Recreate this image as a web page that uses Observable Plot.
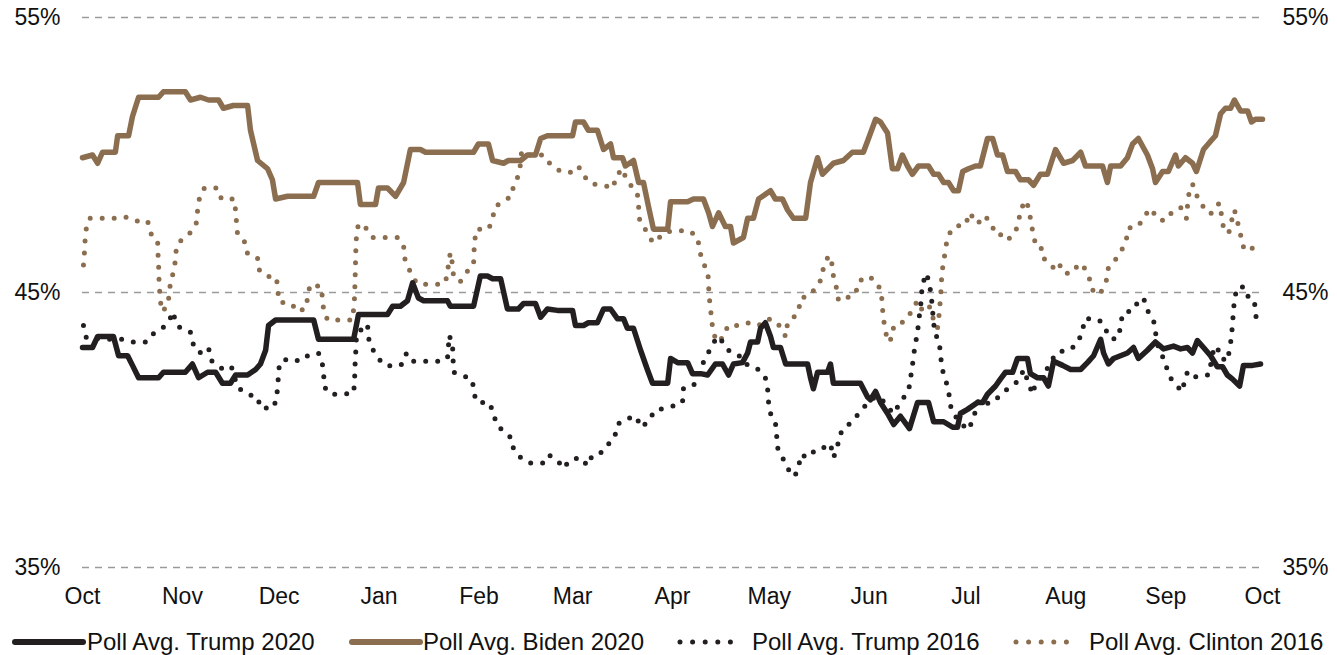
<!DOCTYPE html>
<html>
<head>
<meta charset="utf-8">
<script src="https://cdn.jsdelivr.net/npm/d3@7"></script>
<script src="https://cdn.jsdelivr.net/npm/@observablehq/plot@0.6"></script>
<style>
  body { margin: 0; background: #fff; }
  #wrap { position: relative; width: 1337px; height: 655px; font-family: "Liberation Sans", Arial, sans-serif; }
  #chart svg { display: block; }
  #legend { display: block; }
</style>
</head>
<body>
<div id="wrap">
  <div id="chart"></div>
  <svg id="legend" width="1337" height="40"></svg>
</div>
<script>
// ---------- DATA (day offset from 1 Oct 2019, poll average %) ----------
const monthLabels = ["Oct","Nov","Dec","Jan","Feb","Mar","Apr","May","Jun","Jul","Aug","Sep","Oct"];
const yTicks = [35, 45, 55];
const seriesNames = ["Poll Avg. Trump 2020", "Poll Avg. Biden 2020", "Poll Avg. Trump 2016", "Poll Avg. Clinton 2016"];

const trump2020 = [
  [0,43.0],[3.1,43.0],[4.7,43.4],[9.6,43.4],[11.2,42.7],[14.0,42.7],[15.5,42.35],[17.4,41.9],[23.6,41.9],
  [25.1,42.1],[31.9,42.1],[34.1,42.4],[36.0,41.9],[38.8,42.1],[41.3,42.1],[43.4,41.7],[45.9,41.7],[47.5,42.0],
  [51.2,42.0],[53.7,42.2],[55.2,42.4],[56.8,42.9],[57.7,43.8],[59.9,44.0],[71.7,44.0],[73.2,43.3],[84.1,43.3],
  [85.6,44.2],[94.6,44.2],[96.2,44.5],[98.6,44.5],[100.8,44.7],[102.4,45.35],[104.2,44.8],[105.8,44.7],
  [113.2,44.7],[114.1,44.5],[121.3,44.5],[123.4,45.6],[125.6,45.6],[127.2,45.5],[129.7,45.5],[131.8,44.4],
  [135.2,44.4],[136.8,44.6],[140.5,44.6],[142.1,44.1],[144.2,44.4],[147.3,44.35],[152.0,44.35],[152.9,43.8],
  [155.4,43.8],[156.9,43.9],[159.7,43.9],[161.6,44.4],[163.8,44.4],[165.9,44.05],[167.8,44.05],[169.0,43.7],
  [170.9,43.7],[173.1,42.9],[175.2,42.2],[176.8,41.7],[181.5,41.7],[182.4,42.6],[184.6,42.45],[187.7,42.45],
  [189.2,42.05],[191.7,42.05],[193.9,42.0],[196.3,42.4],[198.5,42.4],[200.4,42.0],[201.9,42.4],[204.7,42.45],
  [206.3,42.8],[207.2,43.2],[209.4,43.2],[210.3,43.7],[211.8,43.9],[213.4,43.4],[214.3,43.0],[216.5,43.0],
  [218.1,42.4],[224.9,42.4],[225.8,41.9],[226.7,41.5],[228.0,42.1],[231.1,42.1],[232.0,42.4],[232.9,41.7],
  [241.3,41.7],[243.5,41.2],[244.4,41.1],[246.0,41.4],[247.5,41.0],[249.7,40.6],[251.6,40.2],[253.7,40.5],
  [256.5,40.05],[259.0,41.0],[262.4,41.0],[264.0,40.3],[267.1,40.3],[269.9,40.1],[271.4,40.1],[272.3,40.6],
  [274.5,40.75],[277.6,41.0],[279.2,41.0],[280.7,41.3],[283.2,41.6],[284.7,41.85],[286.3,42.1],[288.5,42.1],
  [290.0,42.6],[293.1,42.6],[294.0,42.05],[296.2,41.9],[298.1,41.9],[299.6,41.6],[301.2,42.5],[304.0,42.35],
  [306.5,42.2],[309.6,42.2],[311.7,42.45],[313.6,42.7],[315.8,43.3],[316.7,42.8],[318.2,42.4],[319.8,42.6],
  [324.1,42.8],[326.0,43.0],[327.5,42.6],[330.3,42.9],[332.8,43.2],[335.3,42.95],[338.4,43.05],[340.6,42.95],
  [342.7,43.0],[344.3,42.8],[345.8,43.25],[347.7,43.0],[349.9,42.7],[352.0,42.3],[353.6,42.3],[355.1,42.0],
  [356.7,41.85],[358.9,41.6],[360.1,42.35],[362.9,42.35],[365.4,42.4]
];

const biden2020 = [
  [0,49.9],[3.1,50.0],[4.7,49.7],[6.2,50.1],[10.2,50.1],[10.9,50.7],[14.3,50.7],[15.5,51.4],[17.4,52.1],
  [23.6,52.1],[25.1,52.3],[31.9,52.3],[33.5,52.0],[36.6,52.1],[39.1,52.0],[42.2,52.0],[43.7,51.7],[46.8,51.8],
  [51.2,51.8],[52.1,50.9],[54.3,49.8],[57.4,49.5],[58.9,49.1],[59.9,48.4],[63.6,48.5],[71.7,48.5],[73.2,49.0],
  [85.3,49.0],[86.2,48.2],[90.9,48.2],[91.8,48.8],[94.6,48.8],[97.1,48.5],[99.6,49.0],[101.7,50.2],[104.8,50.2],
  [106.4,50.1],[121.3,50.1],[122.8,50.4],[125.9,50.4],[127.2,49.8],[130.6,49.7],[132.1,49.8],[135.9,49.8],
  [138.0,50.0],[140.5,50.0],[142.1,50.6],[144.2,50.7],[152.0,50.7],[152.9,51.2],[155.4,51.2],[156.9,50.9],
  [159.7,50.9],[161.6,50.2],[163.8,50.4],[164.7,49.9],[167.5,49.9],[168.4,49.6],[170.9,49.8],[172.5,49.0],
  [174.0,49.0],[175.6,48.1],[177.1,47.3],[181.5,47.3],[182.4,48.3],[187.7,48.3],[189.5,48.4],[192.6,48.4],
  [194.2,47.9],[195.4,47.4],[197.3,47.9],[199.4,47.4],[201.0,47.4],[201.9,46.8],[205.0,47.0],[206.3,47.7],
  [208.1,47.7],[209.7,48.4],[213.4,48.7],[214.9,48.4],[217.1,48.4],[218.7,48.0],[220.5,47.7],[224.3,47.7],
  [225.8,49.0],[228.0,49.9],[229.5,49.3],[232.9,49.7],[236.0,49.8],[238.8,50.1],[242.2,50.1],[243.8,50.6],
  [246.0,51.3],[247.5,51.2],[249.7,50.8],[251.2,49.5],[252.8,49.5],[254.3,50.0],[255.9,49.6],[257.4,49.3],
  [259.3,49.6],[262.4,49.6],[264.0,49.3],[265.5,49.3],[267.1,49.0],[268.6,49.0],[270.2,48.7],[271.7,48.7],
  [273.0,49.4],[274.8,49.5],[277.0,49.6],[278.5,49.6],[280.7,50.6],[282.3,50.6],[283.8,50.0],[285.4,50.0],
  [286.9,49.4],[289.4,49.4],[290.9,49.1],[293.4,49.1],[295.0,48.9],[297.1,49.3],[299.3,49.3],[301.8,50.2],
  [304.3,49.7],[307.1,49.8],[309.6,50.1],[311.1,49.6],[316.4,49.6],[317.9,49.0],[318.9,49.6],[322.0,49.6],
  [324.1,49.9],[325.7,50.4],[327.5,50.6],[330.3,50.0],[331.9,49.5],[332.8,49.0],[335.0,49.4],[336.8,49.4],
  [339.0,50.0],[339.9,49.6],[342.1,49.9],[344.3,49.7],[345.5,49.4],[347.7,50.2],[349.9,50.5],[351.4,50.7],
  [353.0,51.5],[354.5,51.7],[356.1,51.7],[357.3,52.0],[359.2,51.6],[361.4,51.6],[362.6,51.2],[363.8,51.3],
  [366.0,51.3]
];

const trump2016 = [
  [0.3,43.8],[1.2,43.35],[8.7,43.3],[12.4,43.3],[15.8,43.2],[19.9,43.2],[22.0,43.5],[24.8,43.7],[26.7,43.95],
  [28.2,44.3],[28.8,43.9],[30.4,43.7],[33.5,43.55],[34.4,43.1],[36.3,42.8],[39.1,43.0],[39.7,42.55],[43.7,42.2],
  [46.2,42.3],[48.1,41.55],[51.2,41.3],[54.3,41.2],[55.2,40.8],[59.2,40.8],[60.2,41.15],[60.5,41.55],[60.8,42.0],
  [61.1,42.45],[63.9,42.6],[67.6,42.5],[69.8,42.7],[73.2,42.8],[74.4,42.4],[74.8,42.0],[75.1,41.55],[76.9,41.3],
  [81.0,41.3],[84.1,41.35],[84.4,41.8],[84.5,42.3],[84.7,42.7],[85.0,43.5],[88.4,43.85],[88.7,43.35],[89.6,43.0],
  [93.1,42.4],[96.5,42.3],[99.3,42.4],[100.5,42.8],[102.7,42.5],[110.1,42.5],[113.2,42.6],[113.5,43.05],
  [113.8,43.45],[114.8,43.0],[115.1,42.1],[117.9,42.0],[121.0,41.8],[121.3,41.35],[122.5,41.0],[126.2,41.0],
  [127.5,40.6],[128.4,40.2],[130.6,39.95],[133.1,39.7],[133.7,39.3],[135.9,39.0],[138.6,38.8],[142.7,38.8],
  [144.5,39.1],[147.3,38.9],[149.2,38.6],[151.1,38.9],[154.5,39.0],[156.6,38.7],[158.2,39.1],[161.3,39.2],
  [163.2,39.5],[165.0,39.7],[165.9,40.2],[168.4,40.4],[171.8,40.5],[173.1,40.1],[175.6,40.3],[177.4,40.7],
  [180.8,40.8],[184.2,40.9],[186.1,41.0],[186.4,41.5],[189.5,41.6],[192.3,42.4],[193.9,42.75],[195.4,43.15],
  [197.6,43.4],[199.1,43.05],[201.3,42.8],[204.7,42.65],[206.3,42.35],[209.7,42.2],[211.8,41.9],[212.5,41.5],
  [212.8,41.0],[213.4,40.6],[214.9,40.3],[215.3,39.8],[215.6,39.35],[217.1,39.0],[218.7,38.6],[220.8,38.3],
  [222.1,38.6],[222.7,39.1],[225.2,39.0],[227.4,39.3],[229.8,39.35],[232.0,39.5],[232.9,39.0],[234.2,39.35],
  [234.5,39.75],[236.4,40.1],[238.8,40.3],[240.7,40.6],[242.9,40.9],[245.0,41.15],[247.5,41.2],[249.7,40.8],
  [251.9,40.6],[253.4,41.0],[255.6,41.3],[256.8,41.7],[257.1,42.2],[257.8,42.6],[258.1,43.05],[259.0,43.5],
  [259.3,43.95],[259.9,44.4],[260.2,44.85],[260.5,45.3],[261.8,45.7],[262.7,45.3],[263.3,44.85],[263.6,44.4],
  [264.0,43.95],[264.3,43.5],[265.5,43.3],[266.1,42.85],[266.4,42.4],[267.1,42.0],[268.3,41.6],[268.9,41.2],
  [269.5,40.7],[272.3,40.25],[274.8,40.0],[276.4,40.45],[277.9,41.1],[281.3,40.95],[284.1,41.2],[286.9,41.5],
  [289.4,41.7],[290.9,41.9],[291.9,42.2],[294.7,41.3],[295.6,41.7],[298.7,42.1],[300.3,42.5],[302.7,42.85],
  [306.1,42.9],[308.6,43.15],[310.2,43.6],[310.8,44.05],[313.0,44.05],[315.4,44.0],[317.3,43.65],[319.2,43.3],
  [321.3,43.35],[322.0,43.8],[322.6,44.25],[326.0,44.35],[327.5,44.7],[329.1,44.8],[330.3,44.35],[332.2,44.0],
  [332.8,43.55],[333.7,43.0],[335.9,42.45],[336.8,42.0],[339.0,41.65],[341.2,41.4],[341.8,41.8],[342.7,42.1],
  [344.3,41.9],[346.8,42.0],[349.3,42.0],[350.8,42.9],[352.0,43.05],[352.7,42.65],[355.1,42.5],[355.8,42.95],
  [356.4,43.4],[356.7,43.9],[357.0,44.3],[357.3,44.8],[358.3,45.2],[360.4,45.2],[361.7,44.8],[363.5,44.7],
  [363.8,44.25],[364.5,43.8]
];

const clinton2016 = [
  [0.3,46.0],[0.6,46.45],[0.8,46.9],[1.2,47.35],[2.2,47.7],[6.2,47.7],[9.9,47.7],[13.3,47.75],[16.4,47.6],
  [20.2,47.6],[21.1,47.15],[23.3,46.9],[23.4,46.45],[23.6,46.0],[23.7,45.55],[23.9,45.1],[24.2,44.65],
  [24.8,44.3],[26.4,44.55],[27.0,45.0],[27.3,45.45],[28.5,45.8],[28.8,46.25],[29.2,46.7],[31.3,47.0],
  [33.8,47.2],[35.4,47.55],[35.7,48.0],[36.3,48.45],[37.8,48.8],[41.9,48.8],[43.1,48.4],[47.1,48.4],
  [47.5,47.95],[47.8,47.5],[48.1,47.1],[50.6,46.8],[51.2,46.4],[54.3,46.25],[54.6,45.85],[56.8,45.6],
  [60.2,45.55],[60.5,45.1],[61.1,44.65],[64.8,44.6],[66.7,44.3],[69.5,44.45],[69.8,44.9],[70.7,45.3],
  [74.1,45.2],[74.4,44.8],[74.8,44.35],[76.0,44.0],[79.7,44.0],[83.7,44.0],[84.1,44.4],[84.4,44.85],
  [84.5,45.3],[84.6,45.7],[84.7,46.2],[84.8,46.65],[85.0,47.1],[85.6,47.5],[88.4,47.3],[90.0,47.0],
  [93.7,47.0],[97.7,47.0],[99.6,46.7],[99.9,46.25],[101.1,45.9],[102.7,45.5],[104.2,45.3],[108.3,45.3],
  [112.0,45.3],[113.2,45.6],[113.5,46.05],[114.1,46.45],[114.8,46.0],[115.1,45.55],[117.2,45.4],[118.8,45.7],
  [121.3,46.0],[121.4,46.4],[121.6,46.85],[122.2,47.3],[125.9,47.3],[127.2,47.65],[127.8,48.1],[130.3,48.3],
  [133.1,48.5],[133.7,48.9],[135.2,49.25],[135.9,49.7],[136.2,50.15],[138.3,50.0],[143.0,50.0],[144.9,49.7],
  [147.6,49.45],[151.1,49.35],[153.8,49.6],[155.4,49.25],[157.9,48.95],[161.3,48.9],[164.7,48.8],[165.3,49.2],
  [167.5,49.5],[168.7,49.1],[172.1,48.6],[172.5,48.1],[172.8,47.65],[174.3,47.35],[175.9,47.0],[177.1,46.8],
  [180.8,47.2],[184.8,47.25],[188.3,47.25],[190.8,47.0],[191.4,46.55],[192.3,46.1],[193.9,45.8],[194.2,45.35],
  [194.3,44.9],[194.8,44.45],[195.1,44.0],[195.7,43.55],[196.7,43.2],[199.1,43.4],[200.1,43.8],[203.8,43.8],
  [206.3,43.9],[209.7,43.8],[212.5,44.05],[215.3,43.95],[217.1,43.6],[218.1,43.4],[218.7,43.9],[220.2,44.05],
  [222.1,44.3],[222.7,44.8],[224.9,44.85],[227.4,45.15],[229.2,45.5],[229.8,45.9],[231.4,46.35],[232.6,46.0],
  [232.9,45.6],[233.9,45.15],[234.5,44.7],[237.0,44.8],[239.8,44.95],[240.7,45.4],[243.8,45.6],[246.6,45.35],
  [247.8,44.95],[248.1,44.5],[248.4,44.05],[249.1,43.6],[249.7,43.2],[251.2,43.35],[251.6,43.8],[255.0,43.95],
  [257.1,44.3],[258.7,44.65],[259.9,44.35],[261.8,44.6],[263.3,44.4],[264.0,43.95],[265.2,43.7],[265.8,44.3],
  [266.1,44.8],[266.4,45.25],[266.5,45.7],[267.1,46.1],[267.7,46.6],[268.3,47.0],[269.9,47.35],[272.3,47.45],
  [273.9,47.45],[275.1,47.9],[276.4,47.7],[277.6,47.5],[279.8,47.8],[281.9,47.5],[283.2,47.1],[285.4,47.1],
  [286.9,46.9],[289.4,47.2],[290.3,47.6],[291.3,48.1],[292.8,48.35],[293.7,47.9],[294.4,47.45],[295.0,47.0],
  [296.2,46.6],[297.8,46.6],[298.4,46.2],[301.2,45.9],[302.7,46.1],[304.3,45.7],[306.8,45.7],[308.0,45.9],
  [310.2,46.05],[311.4,45.7],[313.0,45.35],[313.6,44.95],[316.1,45.05],[317.6,45.45],[318.2,45.9],[320.4,46.2],
  [322.6,46.6],[323.8,46.95],[324.4,47.35],[327.5,47.4],[329.4,47.8],[331.6,48.05],[333.1,47.7],[335.6,47.6],
  [337.8,47.9],[340.6,48.1],[342.4,47.7],[342.7,48.1],[343.1,48.55],[344.3,48.95],[345.5,48.55],[347.4,48.15],
  [349.9,47.85],[351.1,48.1],[352.7,48.25],[353.3,47.8],[353.9,47.35],[355.5,47.15],[356.4,47.6],[357.3,48.0],
  [358.3,47.55],[359.2,47.1],[360.1,46.65],[362.3,46.5],[364.1,46.9]
];

// ---------- BUILD ----------
const startMs = Date.UTC(2019, 9, 1);
const toDate = d => new Date(startMs + d * 864e5);
const seriesData = [trump2020, biden2020, trump2016, clinton2016];
const rows = seriesData.map((arr, k) => arr.map(([d, v]) => ({series: seriesNames[k], date: toDate(d), value: v})));

const BLACK = "#231f20";
const BROWN = "#8b6e4f";
const FONT = '"Liberation Sans", Arial, sans-serif';
const styles = [
  {stroke: BLACK, strokeWidth: 5.5, dash: null},
  {stroke: BROWN, strokeWidth: 5.5, dash: null},
  {stroke: BLACK, strokeWidth: 5, dash: "0,12"},
  {stroke: BROWN, strokeWidth: 5, dash: "0,12"}
];

const monthTicks = monthLabels.map((_, i) => d3.utcMonth.offset(toDate(0), i));
const lineMark = k => Plot.line(rows[k], {
  x: "date", y: "value",
  stroke: styles[k].stroke, strokeWidth: styles[k].strokeWidth,
  strokeDasharray: styles[k].dash || undefined,
  strokeLinecap: "round", strokeLinejoin: "round", curve: "linear"
});

const chart = Plot.plot({
  width: 1337, height: 615,
  marginLeft: 82, marginRight: 75, marginTop: 17, marginBottom: 48,
  style: {fontFamily: FONT, fontSize: "23px", color: "#111", background: "#fff", overflow: "visible"},
  x: {type: "utc", domain: [toDate(0), toDate(366)]},
  y: {domain: [35, 55]},
  marks: [
    Plot.ruleY(yTicks, {stroke: "#9a9a9a", strokeWidth: 1.5, strokeDasharray: "7,6"}),
    Plot.axisX({ticks: monthTicks, tickFormat: d => monthLabels[d3.utcMonth.count(toDate(0), d)],
      tickSize: 0, tickPadding: 20, label: null, fontSize: 23, fill: "#111"}),
    Plot.axisY({anchor: "left", ticks: yTicks, tickFormat: d => d + "%", tickSize: 0, tickPadding: 22,
      label: null, fontSize: 23, fill: "#111"}),
    Plot.axisY({anchor: "right", ticks: yTicks, tickFormat: d => d + "%", tickSize: 0, tickPadding: 20,
      label: null, fontSize: 23, fill: "#111"}),
    lineMark(3), lineMark(2), lineMark(1), lineMark(0)
  ]
});
document.getElementById("chart").appendChild(chart);

// ---------- LEGEND ----------
const legendLayout = [
  {x1: 15, x2: 83, tx: 87},
  {x1: 352, x2: 420, tx: 423},
  {x1: 680, x2: 743, tx: 752},
  {x1: 1016, x2: 1079, tx: 1089}
];
const lg = d3.select("#legend");
const cy = 27;
seriesNames.forEach((name, k) => {
  const L = legendLayout[k], s = styles[k];
  lg.append("line").attr("x1", L.x1).attr("x2", L.x2).attr("y1", cy).attr("y2", cy)
    .attr("stroke", s.stroke).attr("stroke-width", s.dash ? 5 : 6)
    .attr("stroke-linecap", "round")
    .attr("stroke-dasharray", s.dash ? "0,12.6" : null);
  lg.append("text").attr("x", L.tx).attr("y", cy).attr("dy", "0.35em")
    .attr("font-family", FONT).attr("font-size", 24).attr("fill", "#111").text(name);
});
</script>
</body>
</html>
